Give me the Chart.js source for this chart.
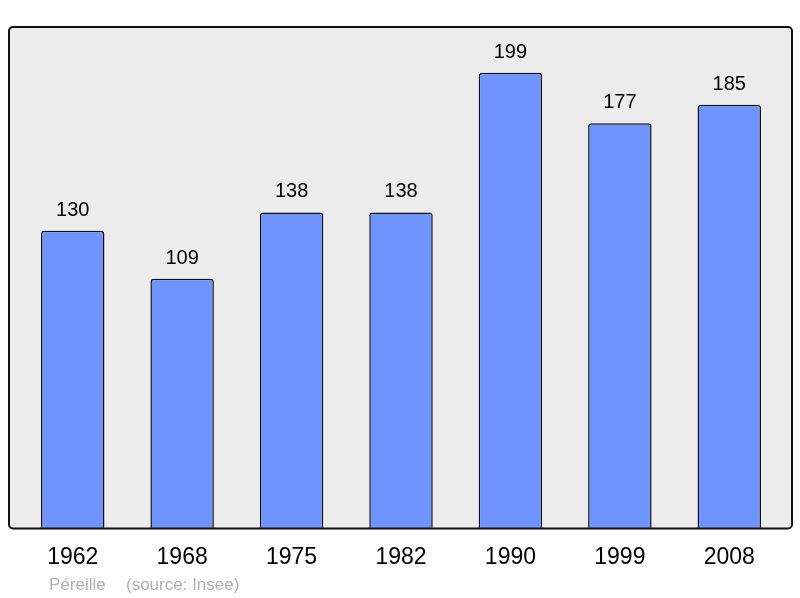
<!DOCTYPE html>
<html>
<head>
<meta charset="utf-8">
<script src="https://cdn.jsdelivr.net/npm/chart.js@4/dist/chart.umd.min.js"></script>
<style>
  html, body { margin: 0; padding: 0; background: #fff; }
  #wrap { width: 800px; height: 598px; }
</style>
</head>
<body>
<div id="wrap"><canvas id="popChart" width="800" height="598"></canvas></div>
<script>
// data
const years = ['1962', '1968', '1975', '1982', '1990', '1999', '2008'];
const population = [130, 109, 138, 138, 199, 177, 185];
const placeName = 'Péreille';
const sourceText = '(source: Insee)';

const FONT = '"Liberation Sans", Arial, sans-serif';

// grey panel behind the bars, border drawn after so it sits on top of bar bottoms
const panelPlugin = {
    id: 'panel',
    beforeDatasetsDraw(chart) {
        const { ctx, chartArea: a } = chart;
        ctx.save();
        ctx.beginPath();
        ctx.roundRect(a.left - 9, a.top, a.right - a.left + 17, a.bottom - a.top, 4);
        ctx.fillStyle = '#ececec';
        ctx.fill();
        ctx.restore();
    },
    afterDatasetsDraw(chart) {
        const { ctx, chartArea: a } = chart;
        ctx.save();
        ctx.beginPath();
        ctx.roundRect(a.left - 9, a.top, a.right - a.left + 17, a.bottom - a.top, 4);
        ctx.lineWidth = 2;
        ctx.strokeStyle = '#111';
        ctx.stroke();

        // value labels above bars
        const meta = chart.getDatasetMeta(0);
        ctx.fillStyle = '#000';
        ctx.font = '20px ' + FONT;
        ctx.textAlign = 'center';
        ctx.textBaseline = 'alphabetic';
        meta.data.forEach((bar, i) => {
            ctx.fillText(String(population[i]), bar.x, bar.y - 15);
        });

        // source line
        ctx.fillStyle = '#b0b0b0';
        ctx.font = '17px ' + FONT;
        ctx.textAlign = 'left';
        ctx.fillText(placeName, 49, 590);
        ctx.fillText(sourceText, 126, 590);
        ctx.restore();
    }
};

new Chart(document.getElementById('popChart'), {
    type: 'bar',
    data: {
        labels: years,
        datasets: [{
            data: population,
            backgroundColor: '#7094ff',
            borderColor: '#111',
            borderWidth: 1.5,
            borderRadius: 3,
            borderSkipped: 'bottom',
            barPercentage: 0.58,
            categoryPercentage: 1
        }]
    },
    options: {
        responsive: false,
        animation: false,
        layout: { padding: { left: 18, right: 16, top: 27, bottom: 12 } },
        plugins: { legend: { display: false }, tooltip: { enabled: false } },
        scales: {
            x: {
                grid: { display: false, drawTicks: false },
                border: { display: false },
                ticks: { color: '#000', padding: 15, font: { size: 23, family: FONT } }
            },
            y: { display: false, min: 0, max: 219 }
        }
    },
    plugins: [panelPlugin]
});
</script>
</body>
</html>
